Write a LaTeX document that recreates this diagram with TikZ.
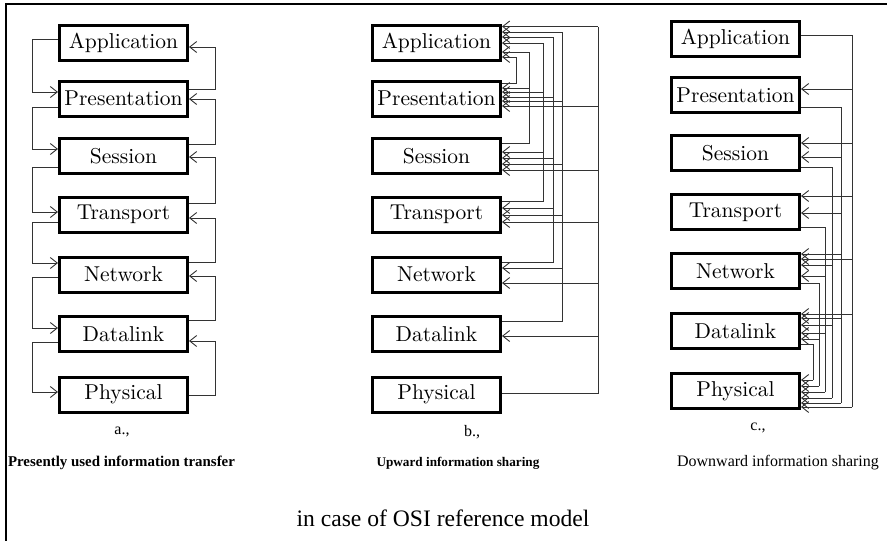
\documentclass[tikz,border=0pt]{standalone}
\usepackage{fontspec}
\usetikzlibrary{arrows.meta,calc}
\newfontfamily\capfont{Liberation Serif}
\newfontfamily\boxfont{lmroman10-regular.otf}
\tikzset{
  layer/.style={draw=black, line width=3pt, minimum width=128pt, minimum height=35pt,
    inner sep=0pt, font=\boxfont\fontsize{21.5}{24}\selectfont},
  con/.style={draw=black!80, line width=0.9pt},
  arr/.style={con, -{Straight Barb[length=7pt,width=11pt]}},
  sublabel/.style={inner sep=0pt, font=\capfont\fontsize{16}{18}\selectfont},
  caption/.style={inner sep=0pt},
}
\newcommand\lnk[5]{% source, offset, target, offset, side
  \coordinate (p1) at ($(#1.north #5)+(0,#2)$);
  \coordinate (p2) at ($(#3.north #5)+(0,#4)$);
  \draw[arr] (p1) -- (v#5 |- p1) -- (v#5 |- p2) -- (p2);}
\begin{document}
\begin{tikzpicture}[x=1pt,y=-1pt]
\useasboundingbox (0,0) rectangle (887,541);
\draw[line width=2.5pt] (6,541) -- (6,4) -- (887,4);

% ---------- panel a ----------
\foreach \n/\t/\y in {App/Application/43, Pres/Presentation/98.5, Sess/Session/156,
  Trans/Transport/214.5, Net/Network/274.5, Data/Datalink/334, Phys/Physical/394.5}
  \node[layer] (a\n) at (123.5,\y) {\t};
\coordinate (vwest) at (32,0);
\coordinate (veast) at (215,0);
\lnk{aApp}{15}{aPres}{12.5}{west}
\lnk{aPres}{27.5}{aSess}{12}{west}
\lnk{aSess}{30}{aTrans}{16.5}{west}
\lnk{aTrans}{26.5}{aNet}{7.5}{west}
\lnk{aNet}{21.5}{aData}{13}{west}
\lnk{aData}{27}{aPhys}{16.5}{west}
\lnk{aPres}{9.5}{aApp}{23}{east}
\lnk{aSess}{7}{aPres}{19.5}{east}
\lnk{aTrans}{7.5}{aSess}{20}{east}
\lnk{aNet}{6.5}{aTrans}{22.5}{east}
\lnk{aData}{5}{aNet}{20.5}{east}
\lnk{aPhys}{19.5}{aData}{26}{east}

% ---------- panel b ----------
\foreach \n/\t/\y in {App/Application/43, Pres/Presentation/98.5, Sess/Session/156,
  Trans/Transport/214.5, Net/Network/274.5, Data/Datalink/334, Phys/Physical/394.5}
  \node[layer] (b\n) at (436.5,\y) {\t};
\foreach \s/\vx/\o/\tl in {
  Pres/516/4/{App/33},
  Sess/529/6/{App/28,Pres/8.5},
  Trans/543/5.5/{App/19,Pres/12.5,Sess/15},
  Net/553/6.5/{App/13,Pres/17.5,Sess/21,Trans/12.5},
  Data/562/6/{App/8,Pres/21.5,Sess/27,Trans/19.5,Net/12.5},
  Phys/598/17.5/{App/2.5,Pres/26.5,Sess/33,Trans/26.5,Net/27.5,Data/21}}
{
  \coordinate (bv\s) at (\vx,0);
  \coordinate (bo\s) at ($(b\s.north east)+(0,\o)$);
  \foreach \t/\d in \tl {
    \coordinate (bi\t\s) at ($(b\t.north east)+(0,\d)$);
    \draw[arr] (bv\s |- bi\t\s) -- (bi\t\s);
  }
  \draw[con] (bo\s) -- (bv\s |- bo\s) -- (bv\s |- biApp\s);
}

% ---------- panel c ----------
\foreach \n/\t/\y in {App/Application/39, Pres/Presentation/95, Sess/Session/153,
  Trans/Transport/212, Net/Network/271, Data/Datalink/331, Phys/Physical/391}
  \node[layer] (c\n) at (735.5,\y) {\t};
\foreach \s/\vx/\o/\tl in {
  App/852/15/{Pres/13,Sess/9,Trans/3,Net/7,Data/2,Phys/35},
  Pres/841/31/{Sess/23,Trans/20,Net/2,Data/6,Phys/31},
  Sess/832/33/{Net/13,Data/13,Phys/26},
  Trans/825/34/{Net/24,Data/21,Phys/20},
  Net/819/31/{Data/27,Phys/14},
  Data/813/32/{Phys/8}}
{
  \coordinate (cv\s) at (\vx,0);
  \coordinate (co\s) at ($(c\s.north east)+(0,\o)$);
  \foreach \t/\d in \tl {
    \coordinate (ci\t\s) at ($(c\t.north east)+(0,\d)$);
    \draw[arr] (cv\s |- ci\t\s) -- (ci\t\s);
  }
  \draw[con] (co\s) -- (cv\s |- co\s) -- (cv\s |- ciPhys\s);
}

% ---------- labels ----------
\node[sublabel] (la) at (122,432) {a.,};
\node[sublabel] (lb) at (472,432) {b.,};
\node[sublabel] (lc) at (758,428) {c.,};
\node[caption, font=\capfont\bfseries\fontsize{14.9}{17}\selectfont] (ca) at (121.5,463) {Presently used information transfer};
\node[caption, font=\capfont\bfseries\fontsize{13.2}{16}\selectfont] (cb) at (458,463) {Upward information sharing};
\node[caption, font=\capfont\fontsize{16}{18}\selectfont] (cc) at (778,463) {Downward information sharing};
\node[caption, font=\capfont\fontsize{23.6}{27}\selectfont] (title) at (443,518) {in case of OSI reference model};
\end{tikzpicture}
\end{document}
